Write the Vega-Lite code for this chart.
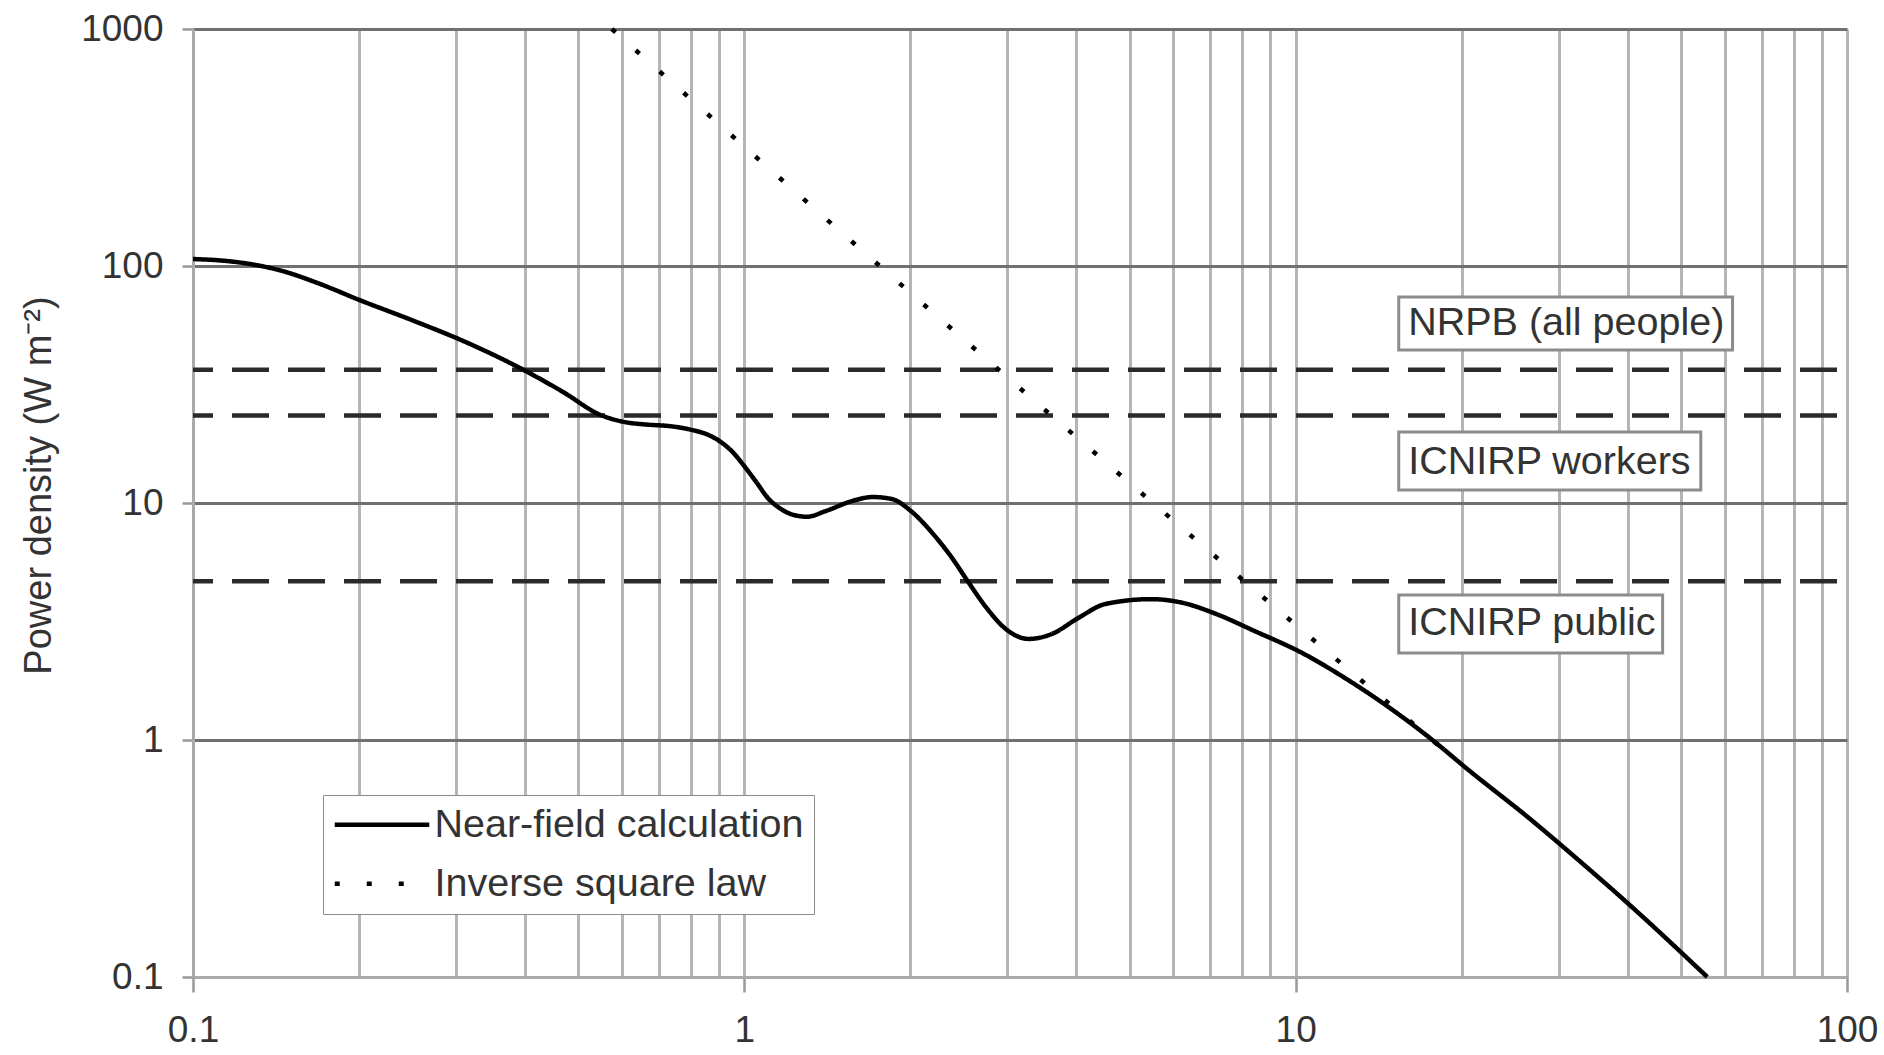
{
  "$schema": "https://vega.github.io/schema/vega-lite/v6.json",
  "width": 1654,
  "height": 948,
  "autosize": {"type": "none"},
  "padding": {"left": 193, "top": 29, "right": 37, "bottom": 78},
  "background": "white",
  "config": {"view": {"stroke": null}, "font": "Liberation Sans"},
  "datasets": {
    "curves": [
      {"distance": 0.1, "power": 107, "series": "Near-field calculation"},
      {"distance": 0.115, "power": 105, "series": "Near-field calculation"},
      {"distance": 0.13, "power": 101, "series": "Near-field calculation"},
      {"distance": 0.1435, "power": 96, "series": "Near-field calculation"},
      {"distance": 0.17, "power": 84, "series": "Near-field calculation"},
      {"distance": 0.2, "power": 72, "series": "Near-field calculation"},
      {"distance": 0.25, "power": 59, "series": "Near-field calculation"},
      {"distance": 0.314, "power": 47.5, "series": "Near-field calculation"},
      {"distance": 0.38, "power": 38.5, "series": "Near-field calculation"},
      {"distance": 0.468, "power": 29.5, "series": "Near-field calculation"},
      {"distance": 0.549, "power": 23.5, "series": "Near-field calculation"},
      {"distance": 0.604, "power": 22.0, "series": "Near-field calculation"},
      {"distance": 0.67, "power": 21.4, "series": "Near-field calculation"},
      {"distance": 0.733, "power": 21.1, "series": "Near-field calculation"},
      {"distance": 0.806, "power": 20.3, "series": "Near-field calculation"},
      {"distance": 0.85, "power": 19.6, "series": "Near-field calculation"},
      {"distance": 0.9, "power": 18.3, "series": "Near-field calculation"},
      {"distance": 0.95, "power": 16.5, "series": "Near-field calculation"},
      {"distance": 1.0, "power": 14.3, "series": "Near-field calculation"},
      {"distance": 1.05, "power": 12.3, "series": "Near-field calculation"},
      {"distance": 1.107, "power": 10.4, "series": "Near-field calculation"},
      {"distance": 1.16, "power": 9.5, "series": "Near-field calculation"},
      {"distance": 1.22, "power": 8.95, "series": "Near-field calculation"},
      {"distance": 1.3, "power": 8.75, "series": "Near-field calculation"},
      {"distance": 1.405, "power": 9.25, "series": "Near-field calculation"},
      {"distance": 1.57, "power": 10.2, "series": "Near-field calculation"},
      {"distance": 1.71, "power": 10.6, "series": "Near-field calculation"},
      {"distance": 1.85, "power": 10.4, "series": "Near-field calculation"},
      {"distance": 2.0, "power": 9.3, "series": "Near-field calculation"},
      {"distance": 2.2, "power": 7.4, "series": "Near-field calculation"},
      {"distance": 2.38, "power": 5.87, "series": "Near-field calculation"},
      {"distance": 2.54, "power": 4.69, "series": "Near-field calculation"},
      {"distance": 2.75, "power": 3.61, "series": "Near-field calculation"},
      {"distance": 2.98, "power": 2.94, "series": "Near-field calculation"},
      {"distance": 3.28, "power": 2.67, "series": "Near-field calculation"},
      {"distance": 3.61, "power": 2.8, "series": "Near-field calculation"},
      {"distance": 4.04, "power": 3.28, "series": "Near-field calculation"},
      {"distance": 4.52, "power": 3.75, "series": "Near-field calculation"},
      {"distance": 5.47, "power": 3.93, "series": "Near-field calculation"},
      {"distance": 6.21, "power": 3.8, "series": "Near-field calculation"},
      {"distance": 7.18, "power": 3.4, "series": "Near-field calculation"},
      {"distance": 8.43, "power": 2.88, "series": "Near-field calculation"},
      {"distance": 10.2, "power": 2.35, "series": "Near-field calculation"},
      {"distance": 12.5, "power": 1.78, "series": "Near-field calculation"},
      {"distance": 15.4, "power": 1.28, "series": "Near-field calculation"},
      {"distance": 17.7, "power": 1.0, "series": "Near-field calculation"},
      {"distance": 20.4, "power": 0.76, "series": "Near-field calculation"},
      {"distance": 26.9, "power": 0.455, "series": "Near-field calculation"},
      {"distance": 31.8, "power": 0.327, "series": "Near-field calculation"},
      {"distance": 40, "power": 0.205, "series": "Near-field calculation"},
      {"distance": 55.8, "power": 0.1, "series": "Near-field calculation"},
      {"distance": 0.575, "power": 1000, "series": "Inverse square law"},
      {"distance": 1.76, "power": 100, "series": "Inverse square law"},
      {"distance": 5.51, "power": 10, "series": "Inverse square law"},
      {"distance": 14.0, "power": 1.58, "series": "Inverse square law"},
      {"distance": 17.1, "power": 1.07, "series": "Inverse square law"},
      {"distance": 19.5, "power": 0.82, "series": "Inverse square law"}
    ],
    "limits": [
      {"limit": "NRPB (all people)", "power": 36.5, "distance": 0.1, "distance_end": 100},
      {"limit": "ICNIRP workers", "power": 23.4, "distance": 0.1, "distance_end": 100},
      {"limit": "ICNIRP public", "power": 4.68, "distance": 0.1, "distance_end": 100}
    ],
    "boxes": [
      {"label": "NRPB (all people)", "distance": 15.38, "distance_end": 62.0, "power": 74.0, "power_end": 44.2},
      {"label": "ICNIRP workers", "distance": 15.38, "distance_end": 54.3, "power": 19.93, "power_end": 11.35},
      {"label": "ICNIRP public", "distance": 15.38, "distance_end": 46.3, "power": 4.09, "power_end": 2.33}
    ],
    "labels": [
      {"label": "NRPB (all people)", "distance": 16.0, "power": 57.5},
      {"label": "ICNIRP workers", "distance": 16.0, "power": 14.9},
      {"label": "ICNIRP public", "distance": 16.0, "power": 3.12}
    ]
  },
  "encoding": {
    "x": {
      "field": "distance", "type": "quantitative",
      "scale": {"type": "log", "domain": [0.1, 100], "nice": false},
      "axis": {
        "values": [0.1, 0.2, 0.3, 0.4, 0.5, 0.6, 0.7, 0.8, 0.9, 1, 2, 3, 4, 5, 6, 7, 8, 9, 10, 20, 30, 40, 50, 60, 70, 80, 90, 100],
        "grid": true, "gridColor": "#b5b5b5", "gridWidth": 3,
        "domain": true, "domainColor": "#aaaaaa", "domainWidth": 3,
        "ticks": true, "tickSize": 15, "tickWidth": 2.5, "tickColor": "#999999",
        "tickOpacity": {"condition": {"test": "indexof([0.1, 1, 10, 100], datum.value) >= 0", "value": 1}, "value": 0},
        "labelExpr": "indexof([0.1, 1, 10, 100], datum.value) >= 0 ? format(datum.value, '~g') : ''",
        "labelFontSize": 37, "labelColor": "#333333", "labelPadding": 20, "labelFlush": false, "labelOverlap": false,
        "labelFont": "Liberation Sans",
        "title": null
      }
    },
    "y": {
      "field": "power", "type": "quantitative",
      "scale": {"type": "log", "domain": [0.1, 1000], "nice": false},
      "axis": {
        "values": [0.1, 1, 10, 100, 1000],
        "grid": true, "gridColor": "#707070", "gridWidth": 3,
        "domain": true, "domainColor": "#aaaaaa", "domainWidth": 3,
        "ticks": true, "tickSize": 11, "tickWidth": 2.5, "tickColor": "#999999",
        "labelExpr": "format(datum.value, '~g')",
        "labelFontSize": 37, "labelColor": "#333333", "labelPadding": 19, "labelFlush": false, "labelOverlap": false,
        "labelFont": "Liberation Sans",
        "title": "Power density (W m⁻²)", "titleFontSize": 38, "titleFontWeight": "normal", "titleColor": "#333333",
        "titleFont": "Liberation Sans", "titlePadding": 22, "titleY": 456
      }
    }
  },
  "layer": [
    {
      "data": {"name": "limits"},
      "mark": {"type": "rule", "strokeDash": [37, 19], "strokeDashOffset": 17, "strokeWidth": 4.5, "color": "#2a2a2a"},
      "encoding": {"x2": {"field": "distance_end"}}
    },
    {
      "data": {"name": "boxes"},
      "mark": {"type": "rect", "fill": "white", "stroke": "#8c8c8c", "strokeWidth": 3},
      "encoding": {"x2": {"field": "distance_end"}, "y2": {"field": "power_end"}}
    },
    {
      "data": {"name": "labels"},
      "mark": {"type": "text", "align": "left", "baseline": "middle", "fontSize": 39.5, "color": "#333333", "font": "Liberation Sans"},
      "encoding": {"text": {"field": "label"}}
    },
    {
      "data": {"name": "curves"},
      "mark": {"type": "line", "interpolate": "monotone", "strokeWidth": 4.5, "color": "black", "strokeCap": "butt"},
      "encoding": {
        "strokeDash": {
          "field": "series", "type": "nominal",
          "scale": {"domain": ["Near-field calculation", "Inverse square law"], "range": [[1, 0], [5, 27]]},
          "legend": {
            "orient": "none", "legendX": 130, "legendY": 766, "title": null,
            "symbolType": "M-1.2,0H5.1", "symbolSize": 900, "symbolStrokeWidth": 4.5, "symbolStrokeColor": "black",
            "symbolOffset": 0, "labelOffset": 62, "labelFontSize": 39.5, "labelColor": "#333333", "labelFont": "Liberation Sans",
            "labelLimit": 0, "rowPadding": 18, "padding": 10, "strokeColor": "#8c8c8c", "fillColor": "white"
          }
        }
      }
    }
  ]
}
